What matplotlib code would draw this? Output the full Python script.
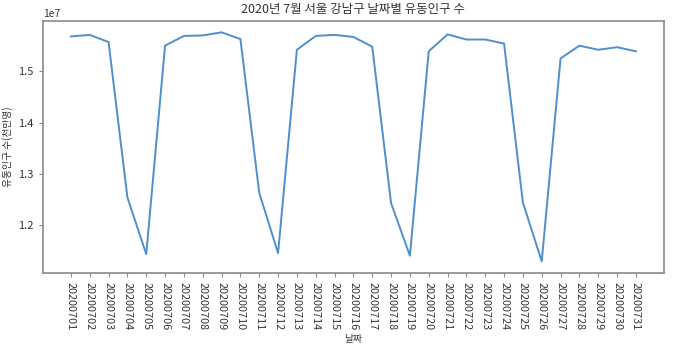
import matplotlib
matplotlib.use("Agg")
import matplotlib.pyplot as plt

plt.rcParams["font.family"] = ["Noto Sans CJK KR", "DejaVu Sans"]
plt.rcParams["axes.unicode_minus"] = False

dates = [f"202007{d:02d}" for d in range(1, 32)]
population = [
    1.568, 1.571, 1.557, 1.254, 1.143, 1.550, 1.569, 1.570, 1.576, 1.563,
    1.263, 1.145, 1.542, 1.569, 1.571, 1.567, 1.548, 1.243, 1.140, 1.539,
    1.572, 1.562, 1.562, 1.554, 1.244, 1.129, 1.525, 1.550, 1.542, 1.547,
    1.539,
]
population = [v * 1e7 for v in population]

LINE_COLOR = "#4f8fcc"
SPINE_COLOR = "#8a8a8a"
TEXT_COLOR = "#333333"

fig = plt.figure(figsize=(6.77, 3.48), dpi=100)
ax = fig.add_axes([0.063, 0.216, 0.918, 0.724])

ax.plot(dates, population, color=LINE_COLOR, linewidth=1.4)

ax.set_title("2020년 7월 서울 강남구 날짜별 유동인구 수", fontsize=9, color=TEXT_COLOR)
ax.set_xlabel("날짜", fontsize=7, color=TEXT_COLOR, labelpad=3)
ax.set_ylabel("유동인구 수(천만명)", fontsize=7, color=TEXT_COLOR)

ax.set_yticks([1.2e7, 1.3e7, 1.4e7, 1.5e7])
ax.tick_params(axis="x", labelrotation=270, labelsize=7.8, colors=TEXT_COLOR, length=3)
ax.tick_params(axis="y", labelsize=8, colors=TEXT_COLOR, length=3)
ax.yaxis.get_offset_text().set_fontsize(7.5)
ax.yaxis.get_offset_text().set_color(TEXT_COLOR)

for spine in ax.spines.values():
    spine.set_color(SPINE_COLOR)
    spine.set_linewidth(1.2)
ax.tick_params(color=SPINE_COLOR)

fig.savefig("out.png", dpi=100)
